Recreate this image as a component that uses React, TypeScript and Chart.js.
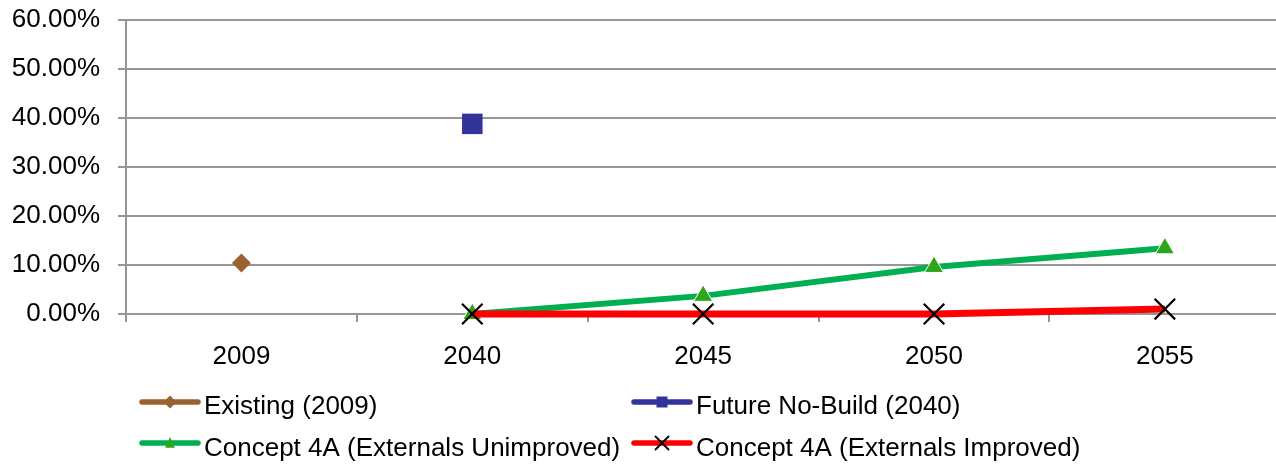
import React, { useEffect, useRef } from 'react';
import { Chart, registerables } from 'chart.js';

Chart.register(...registerables);

const categories = ['2009', '2040', '2045', '2050', '2055'];
const existing = [10.4, null, null, null, null];
const futureNoBuild = [null, 38.8, null, null, null];
const concept4AUnimproved = [null, 0, 3.7, 9.6, 13.4];
const concept4AImproved = [null, 0, 0, 0, 1.0];

const seriesNames = [
  'Existing (2009)',
  'Future No-Build (2040)',
  'Concept 4A (Externals Unimproved)',
  'Concept 4A (Externals Improved)',
];

const yMin = 0;
const yMax = 60;
const yStep = 10;

const FONT = "'Liberation Sans', Arial, sans-serif";
const BROWN = '#9a6231';
const BLUE = '#333399';
const GREEN_LINE = '#00b050';
const GREEN_MARK = '#2ea619';
const RED = '#ff0000';
const GRID = '#969696';

type Shape = 'diamond' | 'square' | 'triangle' | 'x';

function drawMarker(ctx: CanvasRenderingContext2D, shape: Shape, x: number, y: number, s: number, fill: string) {
  ctx.save();
  ctx.beginPath();
  if (shape === 'diamond') {
    ctx.moveTo(x, y - s);
    ctx.lineTo(x + s, y);
    ctx.lineTo(x, y + s);
    ctx.lineTo(x - s, y);
    ctx.closePath();
    ctx.fillStyle = fill;
    ctx.fill();
  } else if (shape === 'square') {
    ctx.rect(x - s, y - s, 2 * s, 2 * s);
    ctx.fillStyle = fill;
    ctx.fill();
  } else if (shape === 'triangle') {
    ctx.moveTo(x, y - s);
    ctx.lineTo(x + s * 0.8, y + s * 0.8);
    ctx.lineTo(x - s * 0.8, y + s * 0.8);
    ctx.closePath();
    ctx.fillStyle = fill;
    ctx.fill();
  } else {
    ctx.moveTo(x - s, y - s);
    ctx.lineTo(x + s, y + s);
    ctx.moveTo(x + s, y - s);
    ctx.lineTo(x - s, y + s);
    ctx.strokeStyle = fill;
    ctx.lineWidth = 1.8;
    ctx.stroke();
  }
  ctx.restore();
}

const legendItems: { name: string; color: string; markColor: string; shape: Shape; size: number; x: number; lineY: number; textY: number }[] = [
  { name: seriesNames[0], color: BROWN, markColor: BROWN, shape: 'diamond', size: 6.5, x: 142, lineY: 402, textY: 413.5 },
  { name: seriesNames[1], color: BLUE, markColor: BLUE, shape: 'square', size: 5.5, x: 634, lineY: 402, textY: 413.5 },
  { name: seriesNames[2], color: GREEN_LINE, markColor: GREEN_MARK, shape: 'triangle', size: 6, x: 142, lineY: 443, textY: 456 },
  { name: seriesNames[3], color: RED, markColor: '#000000', shape: 'x', size: 6.5, x: 634, lineY: 443, textY: 456 },
];

const legendPlugin = {
  id: 'customLegend',
  afterDraw(chart: Chart) {
    const ctx = chart.ctx;
    ctx.save();
    legendItems.forEach((it) => {
      ctx.beginPath();
      ctx.moveTo(it.x, it.lineY);
      ctx.lineTo(it.x + 56, it.lineY);
      ctx.strokeStyle = it.color;
      ctx.lineWidth = 5.5;
      ctx.lineCap = 'round';
      ctx.stroke();
      drawMarker(ctx, it.shape, it.x + 28, it.lineY, it.size, it.markColor);
      ctx.fillStyle = '#000000';
      ctx.font = `26px ${FONT}`;
      ctx.textBaseline = 'alphabetic';
      ctx.textAlign = 'left';
      ctx.fillText(it.name, it.x + 62, it.textY);
    });
    ctx.restore();
  },
};

export default function App() {
  const canvasRef = useRef<HTMLCanvasElement | null>(null);

  useEffect(() => {
    if (!canvasRef.current) return;
    Chart.defaults.font.family = FONT;
    const chart = new Chart(canvasRef.current, {
      type: 'line',
      data: {
        labels: categories,
        datasets: [
          {
            label: seriesNames[0],
            data: existing,
            borderColor: BROWN,
            backgroundColor: BROWN,
            pointStyle: 'rectRot',
            pointRadius: 9.5,
            pointBorderWidth: 0,
            pointBackgroundColor: BROWN,
            showLine: false,
            clip: false,
            order: 4,
          },
          {
            label: seriesNames[1],
            data: futureNoBuild,
            borderColor: BLUE,
            backgroundColor: BLUE,
            pointStyle: 'rect',
            pointRadius: 14.5,
            pointBorderWidth: 0,
            pointBackgroundColor: BLUE,
            showLine: false,
            clip: false,
            order: 3,
          },
          {
            label: seriesNames[2],
            data: concept4AUnimproved,
            borderColor: GREEN_LINE,
            borderWidth: 6,
            pointStyle: 'triangle',
            pointRadius: 11,
            pointBackgroundColor: GREEN_MARK,
            pointBorderColor: '#ffffff',
            pointBorderWidth: 1,
            tension: 0,
            clip: false,
            order: 2,
          },
          {
            label: seriesNames[3],
            data: concept4AImproved,
            borderColor: RED,
            borderWidth: 7,
            pointStyle: 'crossRot',
            pointRadius: 14.5,
            pointBorderColor: '#000000',
            pointBorderWidth: 2.2,
            tension: 0,
            clip: false,
            order: 1,
          },
        ],
      },
      options: {
        responsive: true,
        maintainAspectRatio: false,
        animation: false,
        layout: { padding: { top: 20, left: 0, right: 0, bottom: 0 } },
        plugins: {
          legend: { display: false },
          tooltip: { enabled: false },
        },
        scales: {
          x: {
            offset: true,
            grid: {
              offset: true,
              drawOnChartArea: false,
              drawTicks: true,
              tickLength: 8,
              color: GRID,
              lineWidth: 2,
            },
            border: { display: true, color: GRID, width: 2 },
            ticks: {
              color: '#000000',
              font: { size: 26, family: FONT },
              padding: 19,
              maxRotation: 0,
              autoSkip: false,
            },
            afterFit: (scale: any) => {
              scale.height = 150;
              scale.paddingLeft = 0;
              scale.paddingRight = 0;
            },
          },
          y: {
            min: yMin,
            max: yMax,
            grid: {
              drawTicks: true,
              tickLength: 8,
              color: GRID,
              lineWidth: 2,
            },
            border: { display: true, color: GRID, width: 2 },
            ticks: {
              stepSize: yStep,
              color: '#000000',
              font: { size: 26, family: FONT },
              padding: 18,
              callback: (v: any) => Number(v).toFixed(2) + '%',
            },
            afterFit: (scale: any) => {
              scale.width = 126;
              scale.paddingTop = 0;
              scale.paddingBottom = 0;
            },
          },
        },
      },
      plugins: [legendPlugin],
    });
    return () => chart.destroy();
  }, []);

  return (
    <div
      style={{
        position: 'fixed',
        left: 0,
        top: 0,
        width: '1276px',
        height: '464px',
        overflow: 'hidden',
        background: '#ffffff',
      }}
    >
      <div style={{ position: 'relative', width: '1297px', height: '464px' }}>
        <canvas ref={canvasRef} />
      </div>
    </div>
  );
}
